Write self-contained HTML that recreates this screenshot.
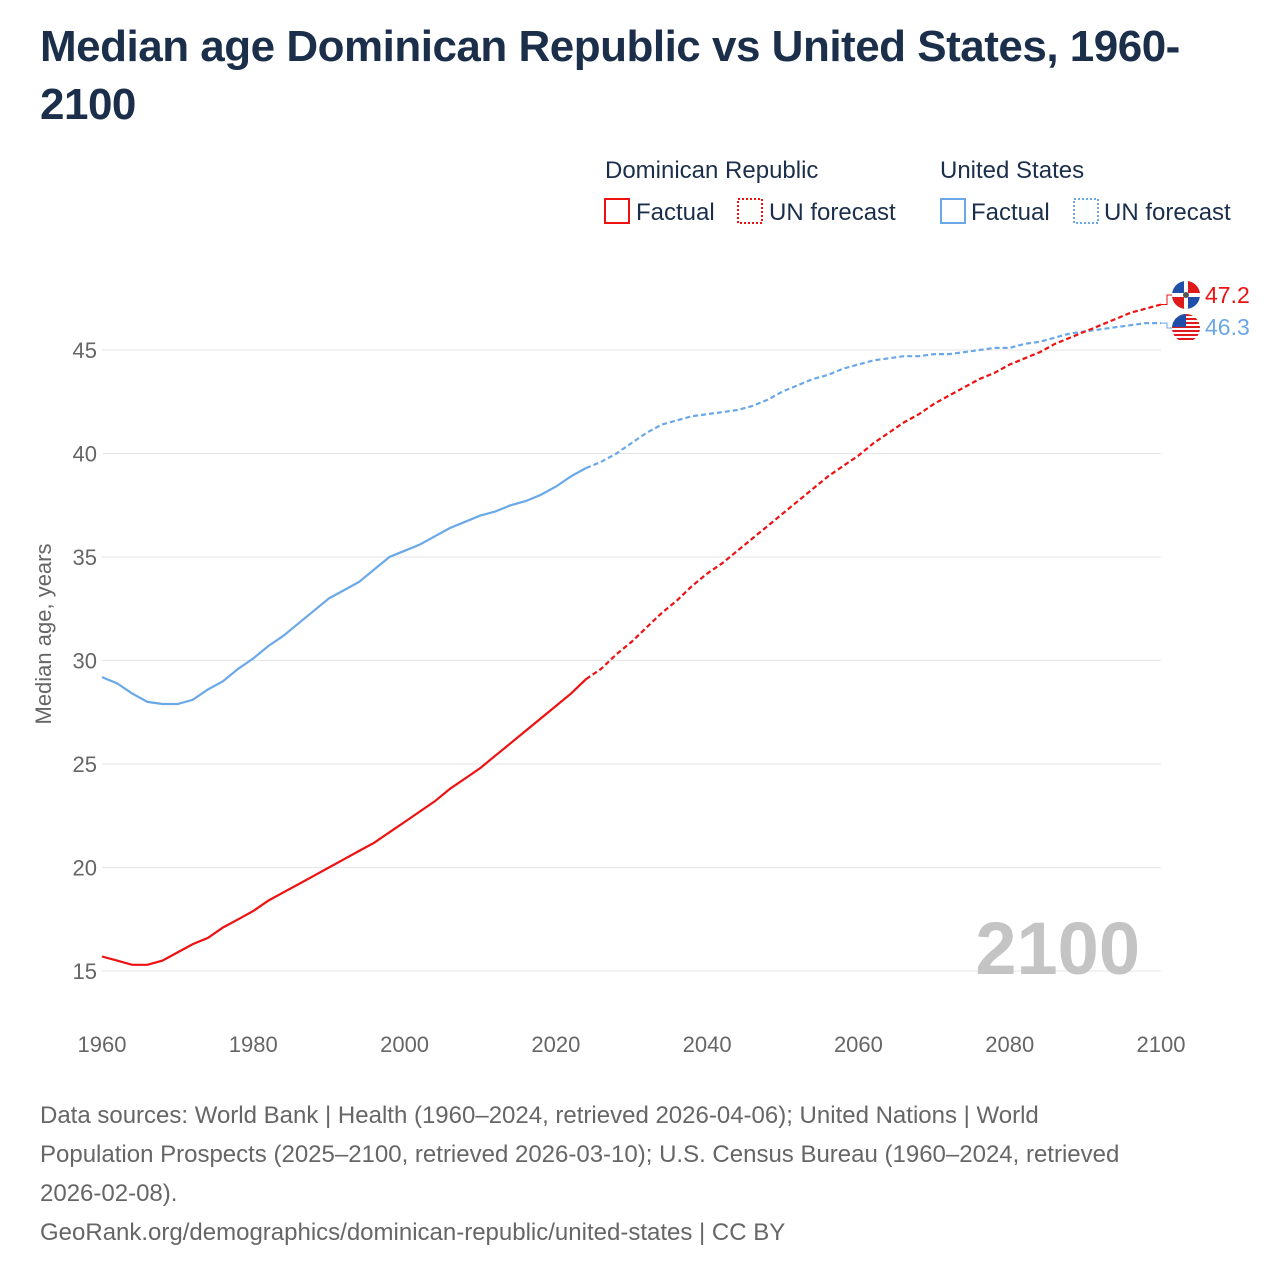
<!DOCTYPE html>
<html><head><meta charset="utf-8">
<style>
body{margin:0;background:#fff;font-family:"Liberation Sans",sans-serif;}
#wrap{position:relative;width:1280px;height:1280px;overflow:hidden;}
h1{position:absolute;left:40px;top:18px;margin:0;font-size:44px;line-height:58px;color:#1b2f4b;font-weight:bold;width:1200px;letter-spacing:-0.5px;}
.foot{position:absolute;left:40px;top:1096px;font-size:24px;line-height:39px;color:#666;width:1220px;white-space:nowrap;}
</style></head><body>
<div id="wrap">
<h1>Median age Dominican Republic vs United States, 1960-2100</h1>
<svg id="chart" width="1280" height="1280" style="position:absolute;left:0;top:0"></svg>
<div class="foot">Data sources: World Bank | Health (1960–2024, retrieved 2026-04-06); United Nations | World<br>Population Prospects (2025–2100, retrieved 2026-03-10); U.S. Census Bureau (1960–2024, retrieved<br>2026-02-08).<br>GeoRank.org/demographics/dominican-republic/united-states | CC BY</div>
</div>
<script>
const years=[];for(let y=1960;y<=2100;y+=2)years.push(y);
const drValues=[15.7,15.5,15.3,15.3,15.5,15.9,16.3,16.6,17.1,17.5,17.9,18.4,18.8,19.2,19.6,20.0,20.4,20.8,21.2,21.7,22.2,22.7,23.2,23.8,24.3,24.8,25.4,26.0,26.6,27.2,27.8,28.4,29.1,29.6,30.3,30.9,31.6,32.3,32.9,33.6,34.2,34.7,35.3,35.9,36.5,37.1,37.7,38.3,38.9,39.4,39.9,40.5,41.0,41.5,41.9,42.4,42.8,43.2,43.6,43.9,44.3,44.6,44.9,45.3,45.6,45.9,46.2,46.5,46.8,47.0,47.2];
const usValues=[29.2,28.9,28.4,28.0,27.9,27.9,28.1,28.6,29.0,29.6,30.1,30.7,31.2,31.8,32.4,33.0,33.4,33.8,34.4,35.0,35.3,35.6,36.0,36.4,36.7,37.0,37.2,37.5,37.7,38.0,38.4,38.9,39.3,39.6,40.0,40.5,41.0,41.4,41.6,41.8,41.9,42.0,42.1,42.3,42.6,43.0,43.3,43.6,43.8,44.1,44.3,44.5,44.6,44.7,44.7,44.8,44.8,44.9,45.0,45.1,45.1,45.3,45.4,45.6,45.8,45.9,46.0,46.1,46.2,46.3,46.3];
const yTicks=[15,20,25,30,35,40,45];
const xTicks=[1960,1980,2000,2020,2040,2060,2080,2100];
const forecastStart=2024;
const NS="http://www.w3.org/2000/svg";
const svg=document.getElementById('chart');
const X=y=>102+(y-1960)*(1059/140);
const Y=v=>971-(v-15)*(621/30);
function mk(tag,attrs,parent){const e=document.createElementNS(NS,tag);for(const k in attrs)e.setAttribute(k,attrs[k]);(parent||svg).appendChild(e);return e;}
const defs=mk('defs',{});
const c1=mk('clipPath',{id:'cl1'},defs);mk('circle',{cx:1186,cy:295,r:14},c1);
const c2=mk('clipPath',{id:'cl2'},defs);mk('circle',{cx:1186,cy:328,r:14},c2);
yTicks.forEach(t=>{
 const l=mk('line',{x1:102,x2:1161,y1:Y(t),y2:Y(t),stroke:'#e6e6e6','stroke-width':1});
 
 
 const tx=mk('text',{x:97,y:Y(t)+8,'text-anchor':'end','font-size':22,fill:'#666'});tx.textContent=t;
 
 
});
xTicks.forEach(t=>{
 const tx=mk('text',{x:X(t),y:1052,'text-anchor':'middle','font-size':22,fill:'#666'});tx.textContent=t;
 
 
});
const yt=mk('text',{x:0,y:0,transform:'translate(51,634) rotate(-90)','text-anchor':'middle','font-size':22,fill:'#666'});yt.textContent='Median age, years';


const yr=mk('text',{x:1140,y:974,'text-anchor':'end','font-size':74,'font-weight':'bold',fill:'#c4c4c4'});yr.textContent='2100';


function path(vals,from,to){let d='';years.forEach((y,i)=>{if(y>=from&&y<=to)d+=(d?'L':'M')+X(y).toFixed(1)+','+Y(vals[i]).toFixed(1);});return d;}
function series(vals,color,nm){
 const a=mk('path',{d:path(vals,1960,forecastStart),fill:'none',stroke:color,'stroke-width':2.2});
 
 
 const b=mk('path',{d:path(vals,forecastStart,2100),fill:'none',stroke:color,'stroke-width':2.2,'stroke-dasharray':'5,3'});
 
 
}
series(usValues,'#6aa8e8','us');
series(drValues,'#ee1111','dr');
const drLast=drValues[drValues.length-1],usLast=usValues[usValues.length-1];
mk('path',{d:`M1161,${Y(drLast)} L1167,${Y(drLast)} L1167,295 L1172,295`,fill:'none',stroke:'#ee1111','stroke-width':1},svg);
mk('path',{d:`M1161,${Y(usLast)} L1167,${Y(usLast)} L1167,328 L1172,328`,fill:'none',stroke:'#6aa8e8','stroke-width':1},svg);
const g1=mk('g',{'clip-path':'url(#cl1)'});
mk('rect',{x:1172,y:281,width:28,height:28,fill:'#1f4fa8'},g1);
mk('rect',{x:1186,y:281,width:14,height:14,fill:'#e01a1a'},g1);mk('rect',{x:1172,y:295,width:14,height:14,fill:'#e01a1a'},g1);
mk('rect',{x:1184,y:281,width:4,height:28,fill:'#fff'},g1);mk('rect',{x:1172,y:293,width:28,height:4,fill:'#fff'},g1);
mk('circle',{cx:1186,cy:295,r:3,fill:'#555'},g1);
const g2=mk('g',{'clip-path':'url(#cl2)'});
mk('rect',{x:1172,y:314,width:28,height:28,fill:'#fff'},g2);
[0,1,2,3,4,5,6].forEach(i=>mk('rect',{x:1172,y:314+i*4,width:28,height:2,fill:'#e01a1a'},g2));
mk('rect',{x:1172,y:314,width:14,height:13,fill:'#1f4fa8'},g2);
const l1=mk('text',{x:1205,y:303,'font-size':23,fill:'#ee1111'});l1.textContent=drLast.toFixed(1);

const l2=mk('text',{x:1205,y:335,'font-size':23,fill:'#6aa8e8'});l2.textContent=usLast.toFixed(1);

function legText(x,y,t,nm,col){const e=mk('text',{x:x,y:y,'font-size':24,fill:col||'#1b2f4b'});e.textContent=t;}
legText(605,178,'Dominican Republic','legend-group-dr');
legText(940,178,'United States','legend-group-us');
function legBox(x,color,dash,nm){const r=mk('rect',{x:x,y:199,width:24,height:24,fill:'none',stroke:color,'stroke-width':2,'stroke-dasharray':dash?'2,2':'none'});}
legBox(605,'#ee1111',false,'legend-dr-factual');legText(636,220,'Factual','legend-dr-factual-label');
legBox(738,'#ee1111',true,'legend-dr-forecast');legText(769,220,'UN forecast','legend-dr-forecast-label');
legBox(941,'#6aa8e8',false,'legend-us-factual');legText(971,220,'Factual','legend-us-factual-label');
legBox(1074,'#6aa8e8',true,'legend-us-forecast');legText(1104,220,'UN forecast','legend-us-forecast-label');
</script>
</body></html>
